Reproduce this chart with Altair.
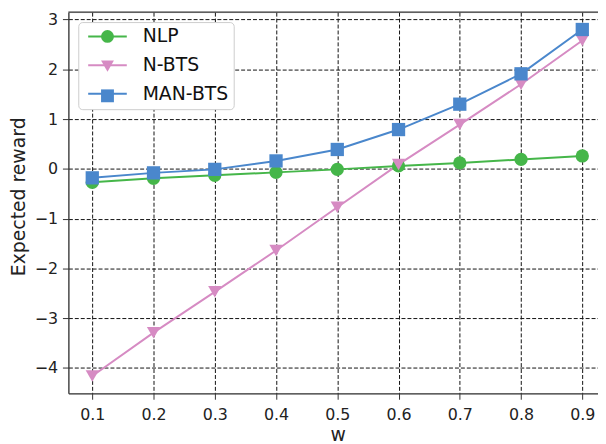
import altair as alt
import pandas as pd

w_values = [0.1, 0.2, 0.3, 0.4, 0.5, 0.6, 0.7, 0.8, 0.9]
nlp = [-0.27, -0.19, -0.13, -0.07, -0.01, 0.06, 0.12, 0.19, 0.26]
n_bts = [-4.16, -3.29, -2.47, -1.64, -0.77, 0.09, 0.89, 1.70, 2.58]
man_bts = [-0.18, -0.08, -0.01, 0.16, 0.39, 0.79, 1.30, 1.91, 2.80]

series = ["NLP", "N-BTS", "MAN-BTS"]
colors = ["#45b649", "#d68bc3", "#4a87cc"]
shapes = ["circle", "triangle-down", "square"]
y_ticks = [-4, -3, -2, -1, 0, 1, 2, 3]

rows = []
for name, vals in zip(series, [nlp, n_bts, man_bts]):
    for wv, v in zip(w_values, vals):
        rows.append({"w": wv, "reward": v, "method": name})
df = pd.DataFrame(rows)

W, H = 535, 385
FONT = "DejaVu Sans"

xaxis = alt.Axis(values=w_values, format=".1f", title="w", titleFontSize=19,
                 titleFontWeight="normal", titleX=272, titleY=48,
                 titleBaseline="alphabetic", titleAlign="center",
                 labelFontSize=16, labelPadding=7, tickSize=6,
                 gridDash=[4, 2], gridColor="#111", gridWidth=1,
                 domainColor="#333", domainWidth=1.3, tickColor="#333",
                 labelColor="#222", titleColor="#222", labelFont=FONT, titleFont=FONT)
yaxis = alt.Axis(values=y_ticks, format="d", title="Expected reward", titleFontSize=19,
                 titleFontWeight="normal", titleX=-44, titleY=186, titleAngle=270,
                 titleBaseline="alphabetic", titleAlign="center",
                 labelFontSize=16, labelPadding=5, tickSize=6,
                 gridDash=[4, 2], gridColor="#111", gridWidth=1,
                 domainColor="#333", domainWidth=1.3, tickColor="#333",
                 labelColor="#222", titleColor="#222", labelFont=FONT, titleFont=FONT)

base = alt.Chart(df).encode(
    x=alt.X("w:Q", scale=alt.Scale(domain=[0.061, 0.0610 + W / 618.75], nice=False, zero=False), axis=xaxis),
    y=alt.Y("reward:Q", scale=alt.Scale(domain=[-4.508, 3.148], nice=False, zero=False), axis=yaxis),
)

common_legend = dict(
    title=None, labelFontSize=19, labelFont=FONT, padding=5, rowPadding=9,
    symbolSize=169, symbolStrokeWidth=2, symbolOffset=15, labelOffset=26,
)

line_legend = alt.Legend(
    orient="top-left", offset=10, symbolType="M-3.0,0H3.0",
    fillColor="white", strokeColor="#cccccc", cornerRadius=4,
    labelColor="#111", zindex=1, **common_legend,
)
point_legend = alt.Legend(
    orient="none", legendX=10, legendY=10, labelExpr="' '", zindex=2,
    **common_legend,
)

lines = base.mark_line(strokeWidth=2, clip=False).encode(
    stroke=alt.Stroke("method:N", sort=series, scale=alt.Scale(range=colors), legend=line_legend),
)
points = base.mark_point(filled=True, size=180, opacity=1, clip=False).encode(
    fill=alt.Fill("method:N", scale=alt.Scale(domain=series, range=colors), legend=point_legend),
    shape=alt.Shape("method:N", scale=alt.Scale(domain=series, range=shapes), legend=point_legend),
)
top_line = alt.Chart(pd.DataFrame({"a": [0]})).mark_rule(color="#333", strokeWidth=1.3).encode(
    x=alt.value(0), x2=alt.value(W), y=alt.value(0)
)

chart = alt.layer(lines, points, top_line).properties(
    width=W, height=H,
    autosize=alt.AutoSizeParams(type="none"),
    padding={"left": 61, "top": 2, "right": 0, "bottom": 49},
).configure_view(stroke=None).configure(font=FONT)

chart.save("out.html", embed_options={"renderer": "svg", "actions": False})
